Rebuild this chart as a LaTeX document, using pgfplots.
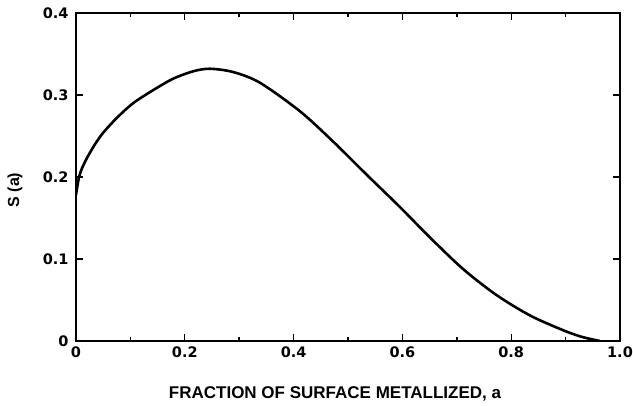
\documentclass[border=0pt]{standalone}
\usepackage{fontspec}
\setmainfont{Liberation Sans}
\newfontfamily\tickfont{DejaVu Sans}
\usepackage{pgfplots}
\pgfplotsset{compat=1.18}
\begin{document}
\begin{tikzpicture}
\begin{axis}[
  scale only axis,
  width=544pt, height=328pt,
  xmin=0, xmax=1, ymin=0, ymax=0.4,
  xtick={0,0.2,0.4,0.6,0.8,1.0},
  xticklabels={0,0.2,0.4,0.6,0.8,1.0},
  minor xtick={0.1,0.3,0.5,0.7,0.9},
  ytick={0,0.1,0.2,0.3,0.4},
  yticklabels={0,0.1,0.2,0.3,0.4},
  tick align=inside,
  major tick length=7pt,
  minor tick length=4pt,
  every tick/.style={black, line width=1.4pt},
  axis line style={line width=2pt},
  ticklabel style={font=\tickfont\bfseries\fontsize{14.5}{16}\selectfont},
  xticklabel style={yshift=-2pt},
  yticklabel style={xshift=-4pt},
  /pgf/number format/assume math mode=true,
]
\addplot[black, line width=2.6pt, smooth, tension=0.5] coordinates {
(0,0.178)
(0.005,0.198)
(0.010,0.209)
(0.020,0.223)
(0.035,0.240)
(0.050,0.254)
(0.075,0.272)
(0.105,0.290)
(0.142,0.306)
(0.179,0.320)
(0.216,0.329)
(0.246,0.332)
(0.289,0.328)
(0.338,0.315)
(0.412,0.280)
(0.473,0.243)
(0.534,0.203)
(0.596,0.163)
(0.651,0.126)
(0.712,0.0875)
(0.773,0.056)
(0.835,0.031)
(0.896,0.013)
(0.930,0.005)
(0.963,0.0)
};
\end{axis}
\node[font=\bfseries\fontsize{17}{19}\selectfont, anchor=center] at (259pt,-53pt) {FRACTION OF SURFACE METALLIZED, a};
\node[font=\bfseries\fontsize{16}{18}\selectfont, rotate=90, anchor=center] at (-61pt,151pt) {S (a)};
\pgfresetboundingbox
\path[use as bounding box] (-76pt,-65pt) rectangle (557pt,341pt);
\end{tikzpicture}
\end{document}
